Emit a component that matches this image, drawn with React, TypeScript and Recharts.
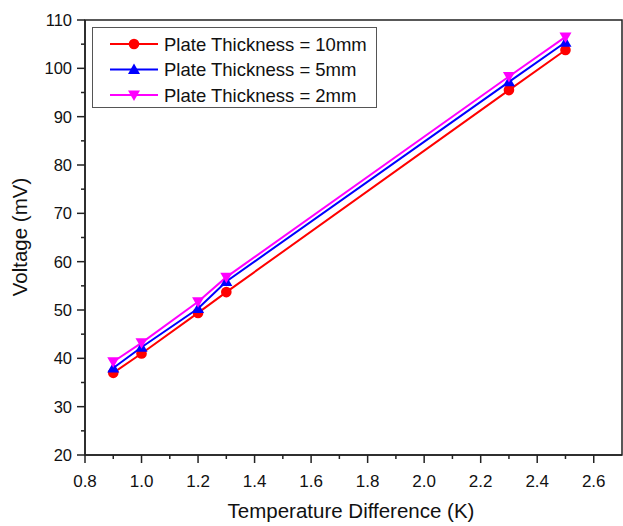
import { LineChart, Line, XAxis, YAxis, ReferenceArea } from 'recharts'

const tempDiff = [0.9, 1.0, 1.2, 1.3, 2.3, 2.5]
const thick10mm = [37.0, 41.0, 49.4, 53.7, 95.5, 103.8]
const thick5mm = [38.0, 42.3, 50.3, 55.9, 97.2, 105.4]
const thick2mm = [39.3, 43.2, 51.7, 56.8, 98.3, 106.5]

const xTicks = [0.8, 0.9, 1.0, 1.1, 1.2, 1.3, 1.4, 1.5, 1.6, 1.7, 1.8, 1.9, 2.0, 2.1, 2.2, 2.3, 2.4, 2.5, 2.6]
const yTicks = [20, 25, 30, 35, 40, 45, 50, 55, 60, 65, 70, 75, 80, 85, 90, 95, 100, 105, 110]

const SERIES = [
  { key: 't10', name: 'Plate Thickness = 10mm', color: '#ff0000', shape: 'circle' },
  { key: 't5', name: 'Plate Thickness = 5mm', color: '#0000ff', shape: 'up' },
  { key: 't2', name: 'Plate Thickness = 2mm', color: '#ff00ff', shape: 'down' },
]

const data = tempDiff.map((x, i) => ({ x, t10: thick10mm[i], t5: thick5mm[i], t2: thick2mm[i] }))

const FONT = '"Liberation Sans", Arial, sans-serif'
const AXIS = '#222'

function Marker({ cx, cy, shape, color }: { cx: number; cy: number; shape: string; color: string }) {
  if (cx == null || cy == null) return null
  if (shape === 'circle') return <circle cx={cx} cy={cy} r={5.3} fill={color} />
  if (shape === 'up')
    return <polygon points={`${cx - 6},${cy + 4.5} ${cx + 6},${cy + 4.5} ${cx},${cy - 6}`} fill={color} />
  return <polygon points={`${cx - 6},${cy - 4.5} ${cx + 6},${cy - 4.5} ${cx},${cy + 6}`} fill={color} />
}

function XTick({ x, y, payload }: any) {
  const v = payload.value
  const major = Math.round(v * 10) % 2 === 0
  return (
    <g>
      <line x1={x} y1={y} x2={x} y2={y + (major ? 8 : 4)} stroke={AXIS} strokeWidth={1.5} />
      {major && (
        <text x={x} y={y + 32} textAnchor="middle" fontSize={17} fontFamily={FONT} fill="#111">
          {v.toFixed(1)}
        </text>
      )}
    </g>
  )
}

function YTick({ x, y, payload }: any) {
  const v = payload.value
  const major = v % 10 === 0
  return (
    <g>
      <line x1={x} y1={y} x2={x - (major ? 8 : 4)} y2={y} stroke={AXIS} strokeWidth={1.5} />
      {major && (
        <text x={x - 13} y={y + 6} textAnchor="end" fontSize={16.5} fontFamily={FONT} fill="#111">
          {v}
        </text>
      )}
    </g>
  )
}

function LegendBox() {
  return (
    <svg width={286} height={82} style={{ display: 'block' }}>
      <rect x={0.5} y={0.5} width={284} height={80} fill="#fff" stroke="#555" strokeWidth={1} />
      {SERIES.map((s, i) => {
        const cy = 17 + i * 25.5
        return (
          <g key={s.key}>
            <line x1={18} y1={cy} x2={66} y2={cy} stroke={s.color} strokeWidth={2} />
            <Marker cx={42} cy={cy} shape={s.shape} color={s.color} />
            <text x={72} y={cy + 6.5} fontSize={18.5} fontFamily={FONT} fill="#111">
              {s.name}
            </text>
          </g>
        )
      })}
    </svg>
  )
}

export default function App() {
  return (
    <div style={{ width: 623, height: 526, position: 'relative', background: '#fff' }}>
      <style>{'body{margin:0}'}</style>
      <LineChart width={623} height={526} data={data} margin={{ top: 20, right: 1, left: 0, bottom: 0 }}>
        <XAxis
          dataKey="x"
          type="number"
          domain={[0.8, 2.7]}
          ticks={xTicks}
          interval={0}
          height={71}
          tickSize={0}
          tickMargin={0}
          tickLine={false}
          tick={<XTick />}
          axisLine={{ stroke: AXIS, strokeWidth: 1.5 }}
          allowDataOverflow
        />
        <YAxis
          type="number"
          domain={[20, 110]}
          ticks={yTicks}
          interval={0}
          width={85}
          tickSize={0}
          tickMargin={0}
          tickLine={false}
          tick={<YTick />}
          axisLine={{ stroke: AXIS, strokeWidth: 1.5 }}
        />
        <ReferenceArea x1={0.8} x2={2.7} y1={20} y2={110} fill="none" stroke={AXIS} strokeWidth={1.5} />
        {SERIES.map((s) => (
          <Line
            key={s.key}
            dataKey={s.key}
            name={s.name}
            stroke={s.color}
            strokeWidth={2}
            isAnimationActive={false}
            dot={(p: any) => <Marker key={`${s.key}-${p.index}`} cx={p.cx} cy={p.cy} shape={s.shape} color={s.color} />}
            activeDot={false}
          />
        ))}
      </LineChart>
      <div style={{ position: 'absolute', left: 92, top: 27 }}>
        <LegendBox />
      </div>
      <div
        style={{
          position: 'absolute',
          left: 20,
          top: 237,
          transform: 'translate(-50%, -50%) rotate(-90deg)',
          fontFamily: FONT,
          fontSize: 20.5,
          color: '#111',
          whiteSpace: 'nowrap',
        }}
      >
        Voltage (mV)
      </div>
      <div
        style={{
          position: 'absolute',
          left: 351,
          top: 511,
          transform: 'translate(-50%, -50%)',
          fontFamily: FONT,
          fontSize: 20.5,
          color: '#111',
          whiteSpace: 'nowrap',
        }}
      >
        Temperature Difference (K)
      </div>
    </div>
  )
}
